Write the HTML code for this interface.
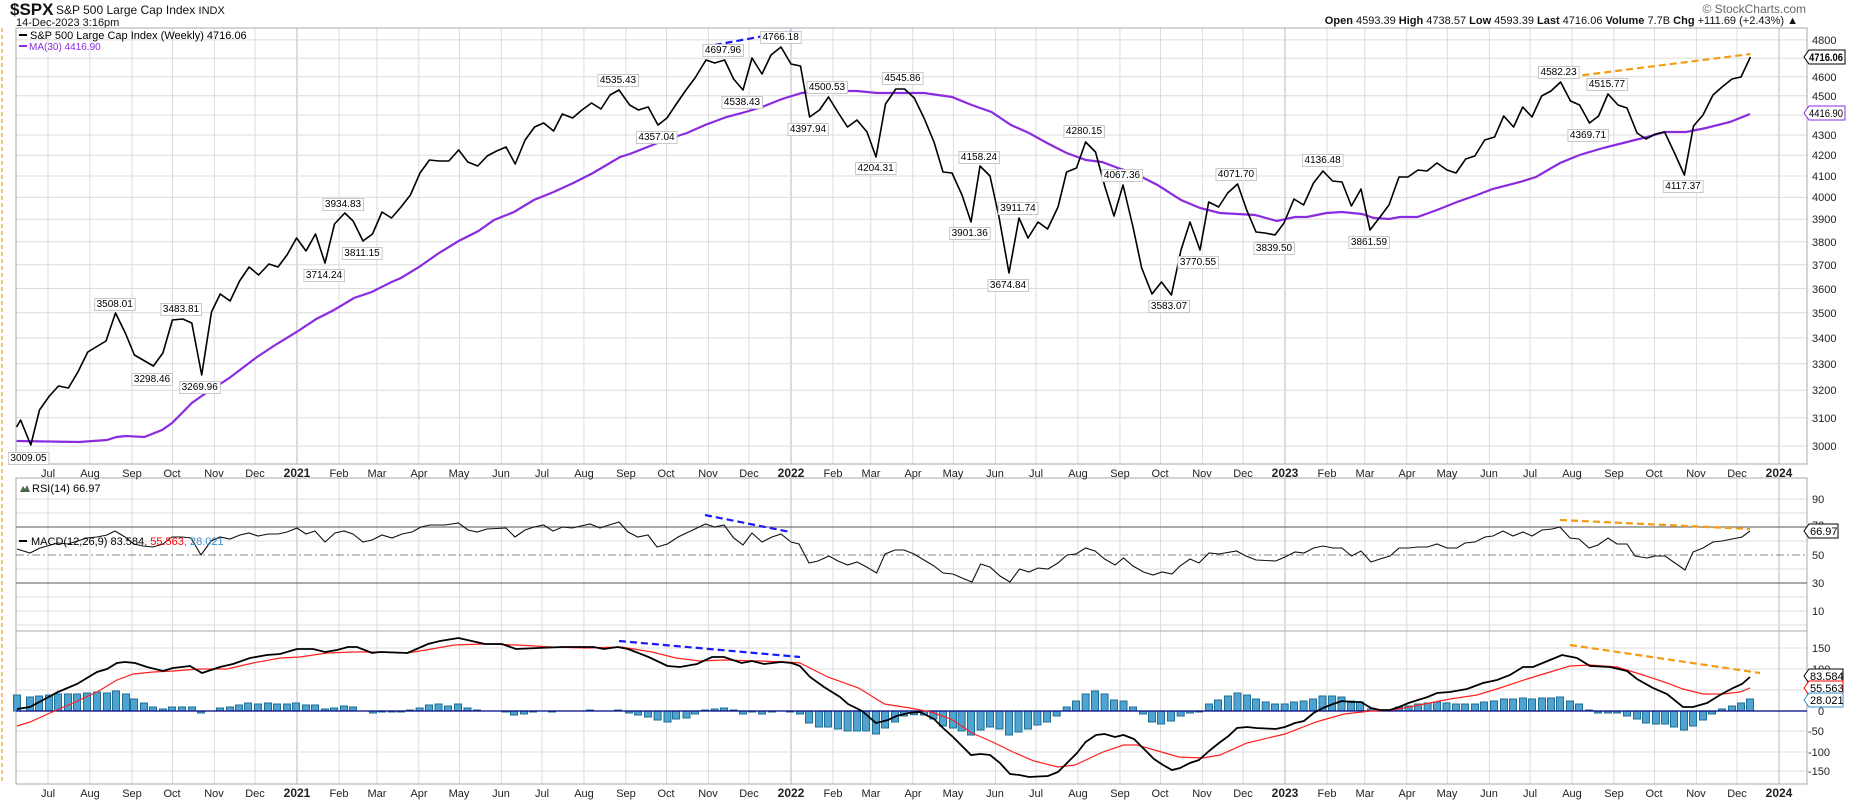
<!DOCTYPE html>
<html><head><meta charset="utf-8"><style>
body{margin:0;background:#fff;}
svg{display:block;font-family:"Liberation Sans",sans-serif;}
.ax{font-size:11px;fill:#222;}
.mo{font-size:11px;fill:#222;text-anchor:middle;}
.yr{font-size:12px;font-weight:bold;fill:#222;text-anchor:middle;}
.lbl{font-size:10px;fill:#000;text-anchor:middle;}
</style></head><body>
<svg id="s" width="1850" height="800" viewBox="0 0 1850 800" xmlns="http://www.w3.org/2000/svg">
<rect width="1850" height="800" fill="#fff"/>
<line x1="2" y1="28" x2="2" y2="782" stroke="#f0a030" stroke-width="1.3" stroke-dasharray="4,3"/>
<text x="10" y="15" font-size="17" font-weight="bold" fill="#111">$SPX</text>
<text x="56" y="14" font-size="12" fill="#111">S&amp;P 500 Large Cap Index <tspan font-size="11">INDX</tspan></text>
<text x="16" y="26" font-size="11" fill="#111">14-Dec-2023 3:16pm</text>
<text x="1806" y="13" font-size="12" fill="#666" text-anchor="end">© StockCharts.com</text>
<text x="1798" y="24" font-size="11" fill="#111" text-anchor="end"><tspan font-weight="bold">Open</tspan> 4593.39  <tspan font-weight="bold">High</tspan> 4738.57  <tspan font-weight="bold">Low</tspan> 4593.39  <tspan font-weight="bold">Last</tspan> 4716.06  <tspan font-weight="bold">Volume</tspan> 7.7B  <tspan font-weight="bold">Chg</tspan> +111.69 (+2.43%) ▲</text>

<g id="grid" stroke="#dcdcdc" stroke-width="1"></g>

<g fill="none" stroke="#aaa">
<rect x="16" y="28" width="1791" height="436"/>
<rect x="16" y="478" width="1791" height="153"/>
<rect x="16" y="631" width="1791" height="153"/>
</g>

<line x1="19" y1="35" x2="27" y2="35" stroke="#000" stroke-width="2"/>
<text x="30" y="39" font-size="11" fill="#000">S&amp;P 500 Large Cap Index (Weekly) 4716.06</text>
<line x1="19" y1="46" x2="27" y2="46" stroke="#8a2be2" stroke-width="2"/>
<text x="29" y="50" font-size="10" fill="#8a2be2">MA(30) 4416.90</text>

<polyline fill="none" stroke="#8a2be2" stroke-width="2.2" points="16.6,441 79,442 106.8,440 116.6,437 125.7,436 144.3,437 162,430 172,423 182,413 191.8,403 201.7,396 229.3,378 257,357 276.8,344 296.6,332 316.3,319 334,310 354,298 371.7,292 391.5,282 401,278 419,267 439,253 458.7,241 478.4,231 494,220 514,212 533.8,200 553.6,192 573.3,183 593,173 620,157 629.7,154 647.5,147 665,140 687,133 705,125 726.5,117 742,113 762,107 782,99 801.7,93 829,91 857,91 877,93 924,93 952,97 971.7,105 991.5,112 1011,125 1029,133 1047,143 1066.6,153 1086,160 1102,162 1118,168 1134,173 1157.5,185 1181,200 1200,208 1219.8,213 1255,215 1277,221 1295,217 1307,217 1326.5,213 1342,212 1362,214 1374,218 1389,219 1400,217 1417.5,217 1437,210 1457,202 1477,195 1492.6,189 1520,182 1536,177 1560,163 1579.6,155 1603,148 1627,142 1647,137 1664.6,132 1686,132 1706,128 1730,122 1750,114"/>
<polyline fill="none" stroke="#000" stroke-width="1.6" stroke-linejoin="round" points="16.6,427 20.6,420 30.8,445 39.5,410 49.4,396 58.5,386 68.4,388 77.9,372 87.8,352 106,341 115.5,313 125.3,333 134.4,355 153.4,366 162.9,353 172.4,320 182.7,319 191.8,323 201.7,375 211.5,312 220.2,294 230.1,301 239.6,281 249.1,267 258.6,275 268.9,264 278,267 287,255 296.6,238 306,251 315.5,234 325,263 334.5,224 344.8,213 353.1,221 363,241 372.5,234 382,212 391.5,218 401,207 410.4,195 420,173 429.4,160 438.9,161 448.8,161 458.7,150 467.8,162 477.7,166 487.2,156 496.6,151 506.1,147 515.2,164 525.1,140 534.6,127 543.7,123 553.6,131 562.3,114 572.6,118 582,110 591.5,103 601,109 610,95 619,90 629.7,105 638.4,110 648.2,107 658,125 667,118 677,103 686,90 695,78 706,60 714.7,63 724.6,60 733.6,79 743,90 752,58 762,74 771,55 781,47 791,64 800.5,66 809.6,117 819.5,110 828.5,97 838.4,113 847.5,127 857,120 867,132 876,157 885.5,104 895.8,89 904.5,89 914.3,98 924,118 934,142 943,172 952,173 962,195 971,222 980,166 990,176 999,217 1009,273 1019,218 1028,238 1038,222 1047.6,229 1058,207 1066.6,172 1076.5,168 1085.6,142 1095.5,152 1105,187 1114,216 1123,185 1133,227 1141.7,268 1152,294 1161.5,282 1171.4,295 1181,250 1190,222 1200,250 1208.7,202 1218.6,207 1227.7,193 1237.6,184 1246.7,210 1256,232 1265,233 1275,235 1284,223 1294,199 1303.6,205 1313.5,183 1323,171 1332.5,181 1342,182 1351.4,206 1361,189 1370,230 1380,217 1389,205 1399,177 1408,177 1418,170 1427,171 1437,163 1447,170 1456,173 1465.7,159 1474.8,156 1484.7,140 1494.6,137 1503.7,116 1513.6,127 1522.7,107 1532,117 1541.6,96 1551,91 1560.6,82 1570.5,101 1579.6,105 1589.5,123 1598.6,116 1608,94 1618,105 1627,108 1637,133 1646,139 1655.5,134 1664.6,132 1674.5,153 1684.4,175 1693.5,126 1703,115 1713,95 1722,87 1732,79 1741,77 1750.4,57"/>
<line x1="714.7" y1="45" x2="791" y2="31" stroke="#1a1aff" stroke-width="2.2" stroke-dasharray="7,4"/>
<line x1="1560.6" y1="78" x2="1750.4" y2="54" stroke="#f39c12" stroke-width="2.2" stroke-dasharray="7,4"/>

<g id="labels">
<text class="lbl" x="28.5" y="461">3009.05</text>
<text class="lbl" x="114.7" y="307">3508.01</text>
<text class="lbl" x="152" y="382">3298.46</text>
<text class="lbl" x="181" y="312">3483.81</text>
<text class="lbl" x="199.7" y="390">3269.96</text>
<text class="lbl" x="343" y="207">3934.83</text>
<text class="lbl" x="324" y="278">3714.24</text>
<text class="lbl" x="362" y="256">3811.15</text>
<text class="lbl" x="618" y="83">4535.43</text>
<text class="lbl" x="656.5" y="140">4357.04</text>
<text class="lbl" x="723" y="53">4697.96</text>
<text class="lbl" x="742" y="105">4538.43</text>
<text class="lbl" x="780.7" y="40">4766.18</text>
<text class="lbl" x="827" y="90">4500.53</text>
<text class="lbl" x="808" y="132">4397.94</text>
<text class="lbl" x="902.5" y="81">4545.86</text>
<text class="lbl" x="875.6" y="171">4204.31</text>
<text class="lbl" x="979" y="160">4158.24</text>
<text class="lbl" x="969.7" y="236">3901.36</text>
<text class="lbl" x="1018" y="211">3911.74</text>
<text class="lbl" x="1008" y="288">3674.84</text>
<text class="lbl" x="1084" y="134">4280.15</text>
<text class="lbl" x="1122" y="178">4067.36</text>
<text class="lbl" x="1169" y="309">3583.07</text>
<text class="lbl" x="1198" y="265">3770.55</text>
<text class="lbl" x="1236" y="177">4071.70</text>
<text class="lbl" x="1274" y="251">3839.50</text>
<text class="lbl" x="1322.6" y="163">4136.48</text>
<text class="lbl" x="1369" y="245">3861.59</text>
<text class="lbl" x="1558.6" y="75">4582.23</text>
<text class="lbl" x="1607" y="87">4515.77</text>
<text class="lbl" x="1588" y="138">4369.71</text>
<text class="lbl" x="1683" y="189">4117.37</text>
</g>

<g class="ax">
<text x="1812" y="450">3000</text><text x="1812" y="422">3100</text><text x="1812" y="394">3200</text><text x="1812" y="368">3300</text><text x="1812" y="342">3400</text><text x="1812" y="317">3500</text><text x="1812" y="293">3600</text><text x="1812" y="269">3700</text><text x="1812" y="246">3800</text><text x="1812" y="223">3900</text><text x="1812" y="201">4000</text><text x="1812" y="180">4100</text><text x="1812" y="159">4200</text><text x="1812" y="139">4300</text><text x="1812" y="100">4500</text><text x="1812" y="81">4600</text><text x="1812" y="44">4800</text>
</g>
<path d="M1804,57 L1809,50 L1845,50 L1845,64 L1809,64 Z" fill="#fff" stroke="#000"/>
<text x="1809" y="61" font-size="11" font-weight="bold" fill="#000" textLength="34" lengthAdjust="spacingAndGlyphs">4716.06</text>
<path d="M1804,113 L1809,106 L1845,106 L1845,120 L1809,120 Z" fill="#fff" stroke="#8a2be2"/>
<text x="1809" y="117" font-size="11" fill="#000" textLength="34" lengthAdjust="spacingAndGlyphs">4416.90</text>

<line x1="16" y1="527" x2="1807" y2="527" stroke="#777" stroke-width="1.3"/>
<line x1="16" y1="583" x2="1807" y2="583" stroke="#777" stroke-width="1.3"/>
<line x1="16" y1="555" x2="1807" y2="555" stroke="#888" stroke-width="1" stroke-dasharray="8,3,2,3"/>
<path d="M20,492 l3,-6 l2,3 l2,-4 l3,7 z" fill="#4a6a4a"/>
<text x="32" y="492" font-size="11" fill="#000">RSI(14) 66.97</text>
<polyline fill="none" stroke="#111" stroke-width="1.1" points="17,549 30,553 40,548 58,543 68,544 87,538 97,537 107,535 115,531 125,537 134,544 143,546 153,547 163,544 172,537 182,537 191,538 201,555 211,541 220,537 230,539 240,535 249,533 258,536 268,534 278,534 287,532 297,528 306,534 315,531 325,542 335,533 344,531 353,534 363,542 372,540 382,535 392,538 402,534 412,532 421,527 430,525 445,525 458.5,523 468,530 477,532 487,529 506,528 515,537 525,530 534,527 543.6,525 553,531 562.5,527 572,528 590,524 600,528 609,525 619,522 628,532 637.6,537 648,535 657,547 667.5,544 678,537 697,528 705.4,524 714.7,527 724,525 733.7,538 743,545 752,533 762,542 772,537 781,534 791,542 799,544 809,563 818,561 829,556 838,561 847.6,565 857,562 866.6,567 876.6,573 885,554 895,550 904,550 914,554 924,560 934,566 943,573 953,574 962,578 972,582 980.6,564 990,567 1000,576 1010,582 1019.5,569 1029,572 1038,568 1048,569 1058,563 1067,555 1076,554 1085.6,548 1095,551 1104.6,559 1115,565 1123.5,558 1133,566 1143.5,572 1153,575 1162,572 1172,574 1180,566 1190,559 1199,563 1209,553 1219,554 1236.4,551 1246,556 1256,560 1275.7,561 1285,557 1295,552 1304,553 1313.6,548 1323,546 1333,548 1342,548 1351.5,556 1361,551 1371,562 1380,559 1390,556 1399,548 1408.6,548 1418,547 1427.6,547 1437,544 1447,548 1457,548 1465,543 1475,542 1485,537 1493,536 1503,531 1513,536 1523,532 1532,536 1542,530 1552,529 1560,527 1570,538 1579,539 1589,548 1598,545 1608,538 1617,544 1627,544 1635,556 1647,558 1655,556 1665,556 1675,563 1685,570 1693,552 1703,548 1713,542 1722,541 1732,539 1742,537 1750,531"/>
<line x1="705" y1="515" x2="790" y2="532" stroke="#1a1aff" stroke-width="2.2" stroke-dasharray="7,4"/>
<line x1="1560" y1="520" x2="1750" y2="529" stroke="#f39c12" stroke-width="2.2" stroke-dasharray="7,4"/>
<g class="ax"><text x="1812" y="503">90</text><text x="1812" y="529">70</text><text x="1812" y="559">50</text><text x="1812" y="587">30</text><text x="1812" y="615">10</text></g>
<path d="M1804,531 L1809,524 L1838,524 L1838,538 L1809,538 Z" fill="#fff" stroke="#000"/>
<text x="1810" y="535" font-size="11" fill="#000">66.97</text>

<g id="hist" fill="#4fa3d0" stroke="#1f6f96" stroke-width="1"></g>
<line x1="16" y1="711" x2="1807" y2="711" stroke="#000080" stroke-width="1.3"/>
<polyline fill="none" stroke="#ff2020" stroke-width="1.2" points="17,726 30,722 50,713 73,703 97,692 117,680 133,674 153,672 173,671 200,669 227,669 253,663 280,658 300,657 327,653 353,652 380,652 407.5,653 431.7,649 454,645 483,644 517.7,645 552,647 586.6,648 621,647 652,652 676,658 700,661 724,660 759,661 786,662 800,663 827.7,677 858.6,688 884.5,704 910,708 930.7,712 951,719 972,733 992.6,742 1013,752 1034,761 1058,767 1075,765 1103,752 1123.5,745 1137,745 1158,751 1178.6,757 1202.7,758 1220,755 1247,743 1285,734 1316,722 1344,714 1371,711 1392,710 1409,707 1450,699 1477,695 1500,688 1527,679 1550,672 1570,666 1590,665 1617,667 1643,675 1667,683 1683,689 1703,694 1723,694 1740,692 1750,688"/>
<polyline fill="none" stroke="#000" stroke-width="1.8" points="17,709 30,707 43,700 58,692 77,684 97,672 107,669 117,663 125,662 135,663 147,667 163,671 173,668 190,666 202,673 220,667 233,664 250,658 267,655 280,654 297,649 313,649 325,652 337,650 348,647 357,647 372,653 380,652 407.5,653 428,644 440,641 458.5,638 485,644 502,644 516,649 538,648 562.5,647 593.5,647 604,649 617.6,647 628,649 648.6,657 667.5,666 680,667 697,664 712,657 724,657 741.6,663 752,661 764,664 781,662 791.5,663 800,666 810,677 824,687 840,697 848,704 862,711 876,723 888,720 896.5,716 908.6,713 920,712 924,714 934,719 943,728 953,737 971,755 980.6,754 990,755 1000,763 1010,774 1019.5,775 1029,777 1048,776 1058,772 1067,763 1077,753 1085.6,742 1096,735 1104.6,734 1115,737 1123.5,735 1134,739 1144,749 1154,759 1163,765 1172,770 1180,768 1190,763 1199,760 1209,751 1219,743 1228.5,736 1237,728 1247,727 1256,728 1275.7,729 1285,727 1295,723 1304,721 1313.6,713 1323,708 1333,704 1342,701 1351.5,702 1361,702 1371,708 1380,710 1390,710 1399,707 1408.6,703 1418,700 1427.6,697 1437,693 1450,692 1467,689 1483,683 1497,680 1510,675 1523,667 1533,667 1550,660 1562,655 1577,658 1590,666 1610,667 1627,671 1637,679 1653,688 1667,694 1683,707 1693,707 1707,703 1720,695 1733,688 1742,684 1750,677"/>
<line x1="619" y1="641" x2="800" y2="657" stroke="#1a1aff" stroke-width="2.2" stroke-dasharray="7,4"/>
<line x1="1570" y1="645" x2="1760" y2="673" stroke="#f39c12" stroke-width="2.2" stroke-dasharray="7,4"/>
<line x1="19" y1="541" x2="27" y2="541" stroke="#000" stroke-width="2"/>
<text x="31" y="545" font-size="11" fill="#000">MACD(12,26,9) 83.584<tspan fill="#ff0000">, 55.563</tspan><tspan fill="#3a8fc8">, 28.021</tspan></text>
<g class="ax"><text x="1812" y="652">150</text><text x="1812" y="673">100</text><text x="1818" y="715">0</text><text x="1808" y="735">-50</text><text x="1808" y="756">-100</text><text x="1808" y="775">-150</text></g>
<path d="M1804,676 L1809,669 L1843,669 L1843,683 L1809,683 Z" fill="#fff" stroke="#000"/>
<text x="1810" y="680" font-size="11" fill="#000">83.584</text>
<path d="M1804,688 L1809,681 L1843,681 L1843,695 L1809,695 Z" fill="#fff" stroke="#ff0000"/>
<text x="1810" y="692" font-size="11" fill="#000">55.563</text>
<path d="M1804,700 L1809,693 L1843,693 L1843,707 L1809,707 Z" fill="#fff" stroke="#3a8fc8"/>
<text x="1810" y="704" font-size="11" fill="#000">28.021</text>

<g>
<text class="mo" x="48" y="477">Jul</text><text class="mo" x="90" y="477">Aug</text><text class="mo" x="132" y="477">Sep</text><text class="mo" x="172" y="477">Oct</text><text class="mo" x="214" y="477">Nov</text><text class="mo" x="255" y="477">Dec</text><text class="yr" x="297" y="477">2021</text><text class="mo" x="339" y="477">Feb</text><text class="mo" x="377" y="477">Mar</text><text class="mo" x="419" y="477">Apr</text><text class="mo" x="459" y="477">May</text><text class="mo" x="501" y="477">Jun</text><text class="mo" x="542" y="477">Jul</text><text class="mo" x="584" y="477">Aug</text><text class="mo" x="626" y="477">Sep</text><text class="mo" x="666" y="477">Oct</text><text class="mo" x="708" y="477">Nov</text><text class="mo" x="749" y="477">Dec</text><text class="yr" x="791" y="477">2022</text><text class="mo" x="833" y="477">Feb</text><text class="mo" x="871" y="477">Mar</text><text class="mo" x="913" y="477">Apr</text><text class="mo" x="953" y="477">May</text><text class="mo" x="995" y="477">Jun</text><text class="mo" x="1036" y="477">Jul</text><text class="mo" x="1078" y="477">Aug</text><text class="mo" x="1120" y="477">Sep</text><text class="mo" x="1160" y="477">Oct</text><text class="mo" x="1202" y="477">Nov</text><text class="mo" x="1243" y="477">Dec</text><text class="yr" x="1285" y="477">2023</text><text class="mo" x="1327" y="477">Feb</text><text class="mo" x="1365" y="477">Mar</text><text class="mo" x="1407" y="477">Apr</text><text class="mo" x="1447" y="477">May</text><text class="mo" x="1489" y="477">Jun</text><text class="mo" x="1530" y="477">Jul</text><text class="mo" x="1572" y="477">Aug</text><text class="mo" x="1614" y="477">Sep</text><text class="mo" x="1654" y="477">Oct</text><text class="mo" x="1696" y="477">Nov</text><text class="mo" x="1737" y="477">Dec</text><text class="yr" x="1779" y="477">2024</text>
</g>
<g>
<text class="mo" x="48" y="797">Jul</text><text class="mo" x="90" y="797">Aug</text><text class="mo" x="132" y="797">Sep</text><text class="mo" x="172" y="797">Oct</text><text class="mo" x="214" y="797">Nov</text><text class="mo" x="255" y="797">Dec</text><text class="yr" x="297" y="797">2021</text><text class="mo" x="339" y="797">Feb</text><text class="mo" x="377" y="797">Mar</text><text class="mo" x="419" y="797">Apr</text><text class="mo" x="459" y="797">May</text><text class="mo" x="501" y="797">Jun</text><text class="mo" x="542" y="797">Jul</text><text class="mo" x="584" y="797">Aug</text><text class="mo" x="626" y="797">Sep</text><text class="mo" x="666" y="797">Oct</text><text class="mo" x="708" y="797">Nov</text><text class="mo" x="749" y="797">Dec</text><text class="yr" x="791" y="797">2022</text><text class="mo" x="833" y="797">Feb</text><text class="mo" x="871" y="797">Mar</text><text class="mo" x="913" y="797">Apr</text><text class="mo" x="953" y="797">May</text><text class="mo" x="995" y="797">Jun</text><text class="mo" x="1036" y="797">Jul</text><text class="mo" x="1078" y="797">Aug</text><text class="mo" x="1120" y="797">Sep</text><text class="mo" x="1160" y="797">Oct</text><text class="mo" x="1202" y="797">Nov</text><text class="mo" x="1243" y="797">Dec</text><text class="yr" x="1285" y="797">2023</text><text class="mo" x="1327" y="797">Feb</text><text class="mo" x="1365" y="797">Mar</text><text class="mo" x="1407" y="797">Apr</text><text class="mo" x="1447" y="797">May</text><text class="mo" x="1489" y="797">Jun</text><text class="mo" x="1530" y="797">Jul</text><text class="mo" x="1572" y="797">Aug</text><text class="mo" x="1614" y="797">Sep</text><text class="mo" x="1654" y="797">Oct</text><text class="mo" x="1696" y="797">Nov</text><text class="mo" x="1737" y="797">Dec</text><text class="yr" x="1779" y="797">2024</text>
</g>
</svg>
<script>
(function(){
var NS="http://www.w3.org/2000/svg";
function el(t,a,p){var e=document.createElementNS(NS,t);for(var k in a)e.setAttribute(k,a[k]);p.appendChild(e);return e;}
var g=document.getElementById('grid');
var mx=[48,89.9,131.9,172.5,214.4,255,297,339,376.9,418.8,459.4,501.4,542,583.9,625.9,666.5,708.4,749,791,833,870.8,912.8,953.4,995.4,1036,1077.9,1119.9,1160.5,1202.4,1243,1285,1327,1364.8,1406.8,1447.4,1489.3,1530,1572,1613.9,1654.5,1696.4,1737,1779];
var yrs={297:1,791:1,1285:1,1779:1};
var ranges=[[28,464],[478,631],[631,784]];
mx.forEach(function(x){ranges.forEach(function(r){el('line',{x1:x,y1:r[0],x2:x,y2:r[1],stroke:yrs[x]?'#b8b8b8':'#dcdcdc'},g);});});
var py=[446,417.7,390.2,363.7,337.9,312.8,288.5,264.8,241.8,219.3,197.4,176,155.3,135,115.1,95.7,76.7,58.2,39.9];
py.forEach(function(y){el('line',{x1:16,y1:y,x2:1807,y2:y},g);});
[499,513,541,569,597,611,625].forEach(function(y){el('line',{x1:16,y1:y,x2:1807,y2:y},g);});
[648,669,690,731,752,771].forEach(function(y){el('line',{x1:16,y1:y,x2:1807,y2:y},g);});
var h=document.getElementById('hist');
var bars=[[17,695],[30,697],[39,696],[49,695],[58,694],[68,694],[77,694],[87,693],[97,692],[107,693],[116,691],[126,694],[134,699],[144,703],[153,707],[163,709],[172,707],[182,707],[192,707],[201,713],[220,708],[230,707],[239,705],[248,703],[258,704],[268,703],[277,704],[287,704],[296,703],[306,705],[315,705],[325,709],[334,708],[344,706],[353,707],[373,713],[382,712],[392,712],[401,712],[410,710],[419.6,708],[429,705],[438.5,704],[448,706],[458,704],[467.5,708],[477,710],[505.7,712],[514,715],[524,714],[533,712],[552,712],[590,710],[618,710],[629,713],[638,715],[648,717],[657.6,720],[667.5,722],[676,719],[686.5,718],[695,714],[705,710],[714.7,709],[724,708],[733.7,710],[743,714],[752,712],[762,714],[772,712],[790,712],[800,714],[809,723],[819,727],[828,727],[838,729],[847.6,731],[857,731],[866,731],[876,734],[885,728],[895,722],[904,716],[914,714.7],[924,715],[933.4,719],[943,726],[953,728],[961.6,731],[971,735],[980.6,730],[990,727],[999.5,729],[1009,735],[1018.5,732],[1028,729],[1037.4,725],[1047,722],[1056.7,716],[1066.7,707],[1076,701],[1085.6,694],[1095,691],[1104.6,694],[1114,700],[1123.5,701],[1133,707],[1143,714],[1152,722],[1161,724],[1171,721],[1180.7,716],[1190,713],[1199,712],[1209,704],[1218,700],[1228,696],[1237.5,693],[1247,695],[1256,699],[1265.7,702],[1275,704],[1284.7,704],[1294,702],[1303.6,701],[1313,699],[1322.5,696],[1332,696],[1341.5,697],[1351,701],[1360,702],[1371,709],[1380,710],[1399,707],[1408.6,706],[1418,704],[1427.6,703],[1437,702],[1446.5,703],[1456,704],[1465,704],[1475,704],[1484,702],[1494,701],[1504,699],[1513,699],[1523,698],[1532,699],[1542,698],[1551,698],[1560,697],[1570,701],[1579,704],[1589,710],[1598,713],[1608,713],[1617,713],[1627,716],[1637,719],[1646,723],[1656,724],[1665,724],[1674,727],[1684,730],[1693,726],[1703,720],[1712,714],[1722,709],[1732,706],[1741,703],[1750,699]];
bars.forEach(function(b){var y0=Math.min(b[1],711),y1=Math.max(b[1],711);if(y1-y0<1){y0=710;y1=712;}el('rect',{x:b[0]-3.5,y:y0,width:7,height:y1-y0},h);});
var L=document.getElementById('labels');
Array.prototype.slice.call(L.querySelectorAll('text')).forEach(function(t){var bb=t.getBBox();var r=document.createElementNS(NS,'rect');r.setAttribute('x',bb.x-2);r.setAttribute('y',bb.y-0.5);r.setAttribute('width',bb.width+4);r.setAttribute('height',bb.height+1);r.setAttribute('fill','#fff');r.setAttribute('stroke','#c8c8c8');L.insertBefore(r,t);});
})();
</script>
</body></html>
